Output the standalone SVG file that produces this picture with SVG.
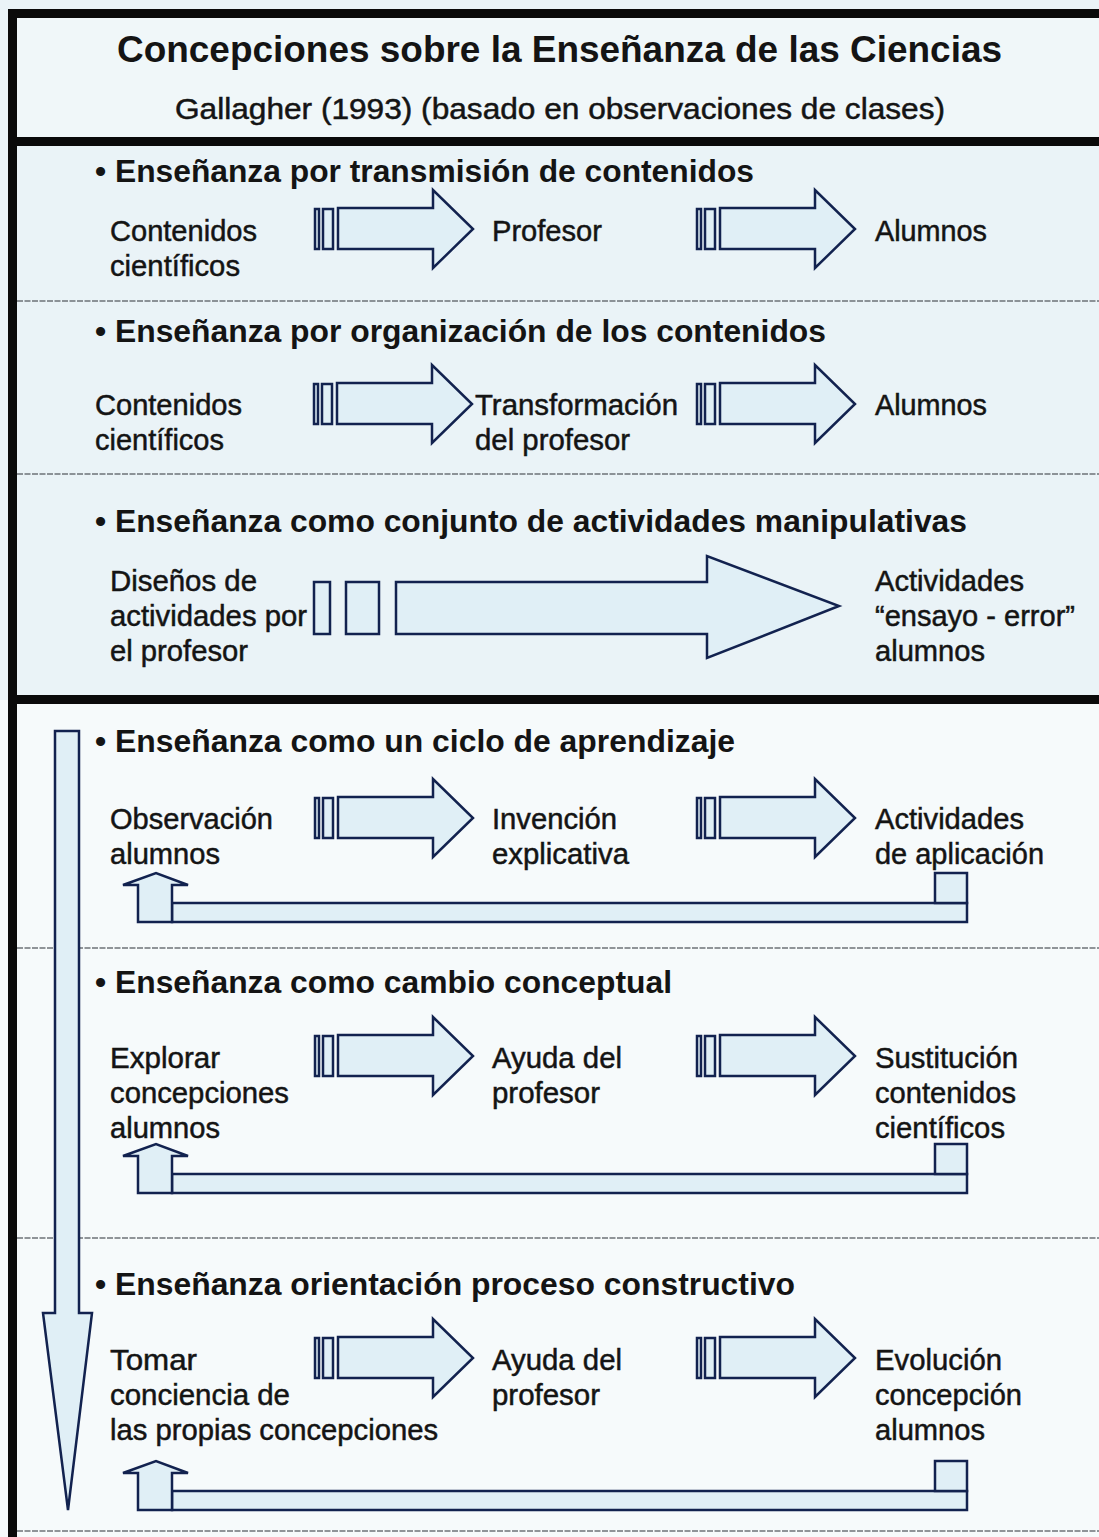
<svg xmlns="http://www.w3.org/2000/svg" xmlns:xlink="http://www.w3.org/1999/xlink" width="1099" height="1537" viewBox="0 0 1099 1537">
<style>
text{font-family:"Liberation Sans",Arial,sans-serif;fill:#141414}
.t{font-size:36px;font-weight:bold}
.s{font-size:29px;stroke:#141414;stroke-width:0.5}
.h{font-size:32px;font-weight:bold}
.b{font-size:30px;stroke:#141414;stroke-width:0.5}
.sh{fill:#e0eff6;stroke:#12224f;stroke-width:2.5;stroke-linejoin:miter}
.frame{stroke:#0a0a0a;stroke-width:9;fill:none}
.div{stroke:#6d7378;stroke-width:1.6;stroke-dasharray:6 1.5;fill:none}
</style>
<defs>
<g id="arr">
<rect class="sh" x="-158" y="-20" width="4" height="40"/>
<rect class="sh" x="-150" y="-20" width="10" height="40"/>
<path class="sh" d="M-135,-21 H-40 V-39 L0,0 L-40,39 V20 H-135 Z"/>
</g>
<g id="loop">
<rect class="sh" x="172" y="30" width="795" height="19"/>
<rect class="sh" x="935" y="0" width="32" height="30"/>
<path class="sh" d="M138,49 V12 H123 L156,0 L188,12 H172 V49 Z"/>
</g>
</defs>
<rect x="0" y="0" width="1099" height="1537" fill="#f6fafb"/>
<rect x="0" y="0" width="1099" height="700" fill="#eaf3f7"/>
<rect x="17" y="18" width="1082" height="119" fill="#f0f7f9"/>
<g id="frame">
<line class="frame" x1="8" y1="13.5" x2="1099" y2="13.5"/>
<line class="frame" x1="12.5" y1="9" x2="12.5" y2="1537"/>
<line class="frame" x1="8" y1="141.5" x2="1099" y2="141.5"/>
<line class="frame" x1="8" y1="699.5" x2="1099" y2="699.5"/>
<line class="div" x1="17" y1="301" x2="1099" y2="301"/>
<line class="div" x1="17" y1="474" x2="1099" y2="474"/>
<line class="div" x1="17" y1="948" x2="1099" y2="948"/>
<line class="div" x1="17" y1="1238" x2="1099" y2="1238"/>
<line class="div" x1="17" y1="1531" x2="1099" y2="1531"/>
</g>
<g id="title">
<text class="t" x="117" y="62" textLength="885" lengthAdjust="spacingAndGlyphs">Concepciones sobre la Enseñanza de las Ciencias</text>
<text class="s" x="175" y="119" textLength="770" lengthAdjust="spacingAndGlyphs">Gallagher (1993) (basado en observaciones de clases)</text>
</g>
<g id="connectors">
<use xlink:href="#arr" x="473" y="229"/>
<use xlink:href="#arr" x="855" y="229"/>
<use xlink:href="#arr" x="472" y="404"/>
<use xlink:href="#arr" x="855" y="404"/>
<rect class="sh" x="314" y="582" width="16" height="52"/>
<rect class="sh" x="346" y="582" width="33" height="52"/>
<path class="sh" d="M396,582 H707 V556 L839,606 L707,658 V634 H396 Z"/>
<use xlink:href="#arr" x="473" y="818"/>
<use xlink:href="#arr" x="855" y="818"/>
<use xlink:href="#arr" x="473" y="1056"/>
<use xlink:href="#arr" x="855" y="1056"/>
<use xlink:href="#arr" x="473" y="1358"/>
<use xlink:href="#arr" x="855" y="1358"/>
<use xlink:href="#loop" x="0" y="873"/>
<use xlink:href="#loop" x="0" y="1144"/>
<use xlink:href="#loop" x="0" y="1461"/>
<path class="sh" d="M55,731 H79 V1313 H92 L68,1510 L43,1313 H55 Z"/>
</g>
<g id="sec1">
<text class="h" x="95" y="182" textLength="659" lengthAdjust="spacingAndGlyphs">• Enseñanza por transmisión de contenidos</text>
<g id="n1a"><text class="b" x="110" y="241" textLength="147" lengthAdjust="spacingAndGlyphs">Contenidos</text><text class="b" x="110" y="276" textLength="130" lengthAdjust="spacingAndGlyphs">científicos</text></g>
<g id="n1b"><text class="b" x="492" y="241" textLength="110" lengthAdjust="spacingAndGlyphs">Profesor</text></g>
<g id="n1c"><text class="b" x="875" y="241" textLength="112" lengthAdjust="spacingAndGlyphs">Alumnos</text></g>
</g>
<g id="sec2">
<text class="h" x="95" y="342" textLength="731" lengthAdjust="spacingAndGlyphs">• Enseñanza por organización de los contenidos</text>
<g id="n2a"><text class="b" x="95" y="415" textLength="147" lengthAdjust="spacingAndGlyphs">Contenidos</text><text class="b" x="95" y="450" textLength="129" lengthAdjust="spacingAndGlyphs">científicos</text></g>
<g id="n2b"><text class="b" x="475" y="415" textLength="203" lengthAdjust="spacingAndGlyphs">Transformación</text><text class="b" x="475" y="450" textLength="155" lengthAdjust="spacingAndGlyphs">del profesor</text></g>
<g id="n2c"><text class="b" x="875" y="415" textLength="112" lengthAdjust="spacingAndGlyphs">Alumnos</text></g>
</g>
<g id="sec3">
<text class="h" x="95" y="532" textLength="872" lengthAdjust="spacingAndGlyphs">• Enseñanza como conjunto de actividades manipulativas</text>
<g id="n3a"><text class="b" x="110" y="591" textLength="147" lengthAdjust="spacingAndGlyphs">Diseños de</text><text class="b" x="110" y="626" textLength="197" lengthAdjust="spacingAndGlyphs">actividades por</text><text class="b" x="110" y="661" textLength="138" lengthAdjust="spacingAndGlyphs">el profesor</text></g>
<g id="n3b"><text class="b" x="875" y="591" textLength="149" lengthAdjust="spacingAndGlyphs">Actividades</text><text class="b" x="875" y="626" textLength="200" lengthAdjust="spacingAndGlyphs">“ensayo - error”</text><text class="b" x="875" y="661" textLength="110" lengthAdjust="spacingAndGlyphs">alumnos</text></g>
</g>
<g id="sec4">
<text class="h" x="95" y="752" textLength="640" lengthAdjust="spacingAndGlyphs">• Enseñanza como un ciclo de aprendizaje</text>
<g id="n4a"><text class="b" x="110" y="829" textLength="163" lengthAdjust="spacingAndGlyphs">Observación</text><text class="b" x="110" y="864" textLength="110" lengthAdjust="spacingAndGlyphs">alumnos</text></g>
<g id="n4b"><text class="b" x="492" y="829" textLength="125" lengthAdjust="spacingAndGlyphs">Invención</text><text class="b" x="492" y="864" textLength="137" lengthAdjust="spacingAndGlyphs">explicativa</text></g>
<g id="n4c"><text class="b" x="875" y="829" textLength="149" lengthAdjust="spacingAndGlyphs">Actividades</text><text class="b" x="875" y="864" textLength="169" lengthAdjust="spacingAndGlyphs">de aplicación</text></g>
</g>
<g id="sec5">
<text class="h" x="95" y="993" textLength="577" lengthAdjust="spacingAndGlyphs">• Enseñanza como cambio conceptual</text>
<g id="n5a"><text class="b" x="110" y="1068" textLength="110" lengthAdjust="spacingAndGlyphs">Explorar</text><text class="b" x="110" y="1103" textLength="179" lengthAdjust="spacingAndGlyphs">concepciones</text><text class="b" x="110" y="1138" textLength="110" lengthAdjust="spacingAndGlyphs">alumnos</text></g>
<g id="n5b"><text class="b" x="492" y="1068" textLength="130" lengthAdjust="spacingAndGlyphs">Ayuda del</text><text class="b" x="492" y="1103" textLength="108" lengthAdjust="spacingAndGlyphs">profesor</text></g>
<g id="n5c"><text class="b" x="875" y="1068" textLength="143" lengthAdjust="spacingAndGlyphs">Sustitución</text><text class="b" x="875" y="1103" textLength="141" lengthAdjust="spacingAndGlyphs">contenidos</text><text class="b" x="875" y="1138" textLength="130" lengthAdjust="spacingAndGlyphs">científicos</text></g>
</g>
<g id="sec6">
<text class="h" x="95" y="1295" textLength="700" lengthAdjust="spacingAndGlyphs">• Enseñanza orientación proceso constructivo</text>
<g id="n6a"><text class="b" x="110" y="1370" textLength="87" lengthAdjust="spacingAndGlyphs">Tomar</text><text class="b" x="110" y="1405" textLength="180" lengthAdjust="spacingAndGlyphs">conciencia de</text><text class="b" x="110" y="1440" textLength="328" lengthAdjust="spacingAndGlyphs">las propias concepciones</text></g>
<g id="n6b"><text class="b" x="492" y="1370" textLength="130" lengthAdjust="spacingAndGlyphs">Ayuda del</text><text class="b" x="492" y="1405" textLength="108" lengthAdjust="spacingAndGlyphs">profesor</text></g>
<g id="n6c"><text class="b" x="875" y="1370" textLength="127" lengthAdjust="spacingAndGlyphs">Evolución</text><text class="b" x="875" y="1405" textLength="147" lengthAdjust="spacingAndGlyphs">concepción</text><text class="b" x="875" y="1440" textLength="110" lengthAdjust="spacingAndGlyphs">alumnos</text></g>
</g>
</svg>
